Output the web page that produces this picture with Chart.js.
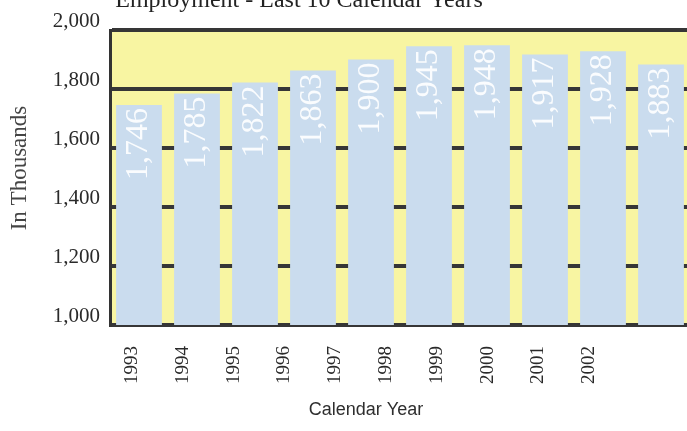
<!DOCTYPE html>
<html>
<head>
<meta charset="utf-8">
<script src="https://cdn.jsdelivr.net/npm/chart.js@4"></script>
<style>
  html, body { margin: 0; padding: 0; background: #ffffff; overflow: hidden; width: 687px; height: 431px; }
  #wrap { position: absolute; left: 0; top: -14px; width: 690px; height: 445px; }
</style>
</head>
<body>
<div id="wrap"><canvas id="c" width="690" height="445"></canvas></div>
<script>
const chartTitle = 'Employment - Last 10 Calendar Years';
const xTitle = 'Calendar Year';
const yTitle = 'In Thousands';
const years = ['1993','1994','1995','1996','1997','1998','1999','2000','2001','2002'];
const employment = [1746, 1785, 1822, 1863, 1900, 1945, 1948, 1917, 1928, 1883];
const yMin = 1000, yMax = 2000, yStep = 200;

const plotBg = {
  id: 'plotBg',
  beforeDraw(chart) {
    const {ctx, chartArea: a} = chart;
    ctx.save();
    ctx.fillStyle = '#f8f5a2';
    ctx.fillRect(a.left, a.top, a.right - a.left, a.bottom - a.top);
    ctx.restore();
  }
};

const valueLabels = {
  id: 'valueLabels',
  afterDatasetsDraw(chart) {
    const {ctx} = chart;
    const meta = chart.getDatasetMeta(0);
    ctx.save();
    ctx.fillStyle = 'rgba(255,255,255,0.9)';
    ctx.font = '32px "Liberation Serif", serif';
    ctx.textAlign = 'right';
    ctx.textBaseline = 'middle';
    meta.data.forEach((bar, i) => {
      ctx.save();
      ctx.translate(bar.x, bar.y + 3);
      ctx.rotate(-Math.PI / 2);
      ctx.fillText(employment[i].toLocaleString('en-US'), 0, 0);
      ctx.restore();
    });
    ctx.restore();
  }
};

const texts = {
  id: 'texts',
  afterDraw(chart) {
    const {ctx} = chart;
    ctx.save();
    ctx.fillStyle = '#222';
    ctx.font = '24px "Liberation Serif", serif';
    ctx.textAlign = 'center';
    ctx.textBaseline = 'alphabetic';
    ctx.fillText(chartTitle, 299, 21);
    ctx.fillStyle = '#2e2e2e';
    ctx.font = '18px "Liberation Sans", Arial, sans-serif';
    ctx.textBaseline = 'middle';
    ctx.fillText(xTitle, 366, 424);
    ctx.translate(20, 182);
    ctx.rotate(-Math.PI / 2);
    ctx.fillStyle = '#444';
    ctx.font = '23px "Liberation Serif", serif';
    ctx.fillText(yTitle, 0, 0);
    ctx.restore();
  }
};

new Chart(document.getElementById('c'), {
  type: 'bar',
  data: {
    labels: years,
    datasets: [{
      data: employment,
      backgroundColor: '#cadcee',
      borderWidth: 0,
      categoryPercentage: 1,
      barPercentage: 0.79
    }]
  },
  options: {
    responsive: false,
    animation: false,
    devicePixelRatio: 1,
    layout: { padding: { top: 44, left: 0, right: 0, bottom: 0 } },
    plugins: {
      legend: { display: false },
      tooltip: { enabled: false },
      title: { display: false }
    },
    scales: {
      x: { display: false },
      x2: {
        type: 'linear',
        position: 'bottom',
        min: 0.1376,
        max: 10.415,
        afterBuildTicks: axis => { axis.ticks = years.map((y, i) => ({ value: i })); },
        afterFit: s => { s.height = 106; },
        grid: { display: false },
        border: { display: false },
        ticks: {
          autoSkip: false,
          maxRotation: 90,
          minRotation: 90,
          padding: 13,
          color: '#2a2a2a',
          font: { family: '"Liberation Serif", serif', size: 19 },
          callback: v => years[v]
        }
      },
      y: {
        min: yMin,
        max: yMax,
        afterFit: s => { s.width = 110; },
        grid: { color: '#363636', lineWidth: 4, drawTicks: false },
        border: { display: true, color: '#333', width: 3 },
        ticks: {
          stepSize: yStep,
          padding: 10,
          labelOffset: -9,
          color: '#2a2a2a',
          font: { family: '"Liberation Serif", serif', size: 21 },
          callback: v => v.toLocaleString('en-US')
        }
      }
    }
  },
  plugins: [plotBg, valueLabels, texts]
});
</script>
</body>
</html>
